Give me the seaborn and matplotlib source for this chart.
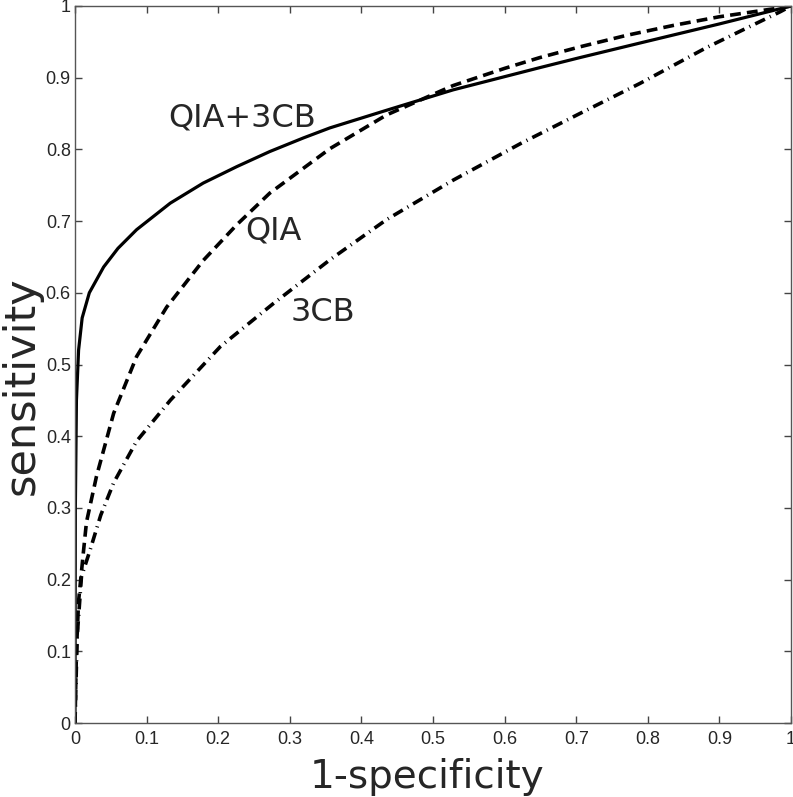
import pandas as pd
import matplotlib
matplotlib.use('Agg')
import matplotlib.pyplot as plt
import seaborn as sns

# ROC curves
combo_x = [0, 0.0005, 0.002, 0.005, 0.01, 0.02, 0.04, 0.06, 0.086, 0.133, 0.179, 0.226,
           0.272, 0.319, 0.356, 0.43, 0.528, 0.649, 0.705, 0.8, 0.9, 1.0]
combo_y = [0, 0.3, 0.45, 0.52, 0.565, 0.6, 0.636, 0.662, 0.688, 0.725, 0.753, 0.776,
           0.797, 0.816, 0.83, 0.853, 0.883, 0.914, 0.928, 0.951, 0.975, 1.0]

qia_x = [0, 0.002, 0.005, 0.0116, 0.016, 0.03, 0.054, 0.086, 0.128, 0.179, 0.226,
         0.272, 0.356, 0.435, 0.528, 0.6, 0.649, 0.705, 0.77, 0.836, 0.9, 0.975, 1.0]
qia_y = [0, 0.1, 0.17, 0.237, 0.28, 0.344, 0.432, 0.511, 0.58, 0.645, 0.695,
         0.739, 0.801, 0.848, 0.889, 0.913, 0.928, 0.943, 0.959, 0.973, 0.985, 0.996, 1.0]

cb_x = [0, 0.003, 0.009, 0.021, 0.036, 0.054, 0.086, 0.133, 0.203, 0.277, 0.356,
        0.435, 0.528, 0.622, 0.705, 0.789, 0.882, 0.985, 1.0]
cb_y = [0, 0.12, 0.204, 0.241, 0.29, 0.335, 0.393, 0.45, 0.525, 0.585, 0.646,
        0.702, 0.757, 0.808, 0.85, 0.892, 0.942, 0.992, 1.0]

ticks = [0, 0.1, 0.2, 0.3, 0.4, 0.5, 0.6, 0.7, 0.8, 0.9, 1]
tick_labels = ['0', '0.1', '0.2', '0.3', '0.4', '0.5', '0.6', '0.7', '0.8', '0.9', '1']

df = pd.concat([
    pd.DataFrame({'x': combo_x, 'y': combo_y, 'model': 'QIA+3CB'}),
    pd.DataFrame({'x': qia_x, 'y': qia_y, 'model': 'QIA'}),
    pd.DataFrame({'x': cb_x, 'y': cb_y, 'model': '3CB'}),
], ignore_index=True)

sns.set_theme(style='white')
plt.rcParams['font.family'] = ['DejaVu Sans']

fig = plt.figure(figsize=(7.93, 7.97), dpi=100)
ax = fig.add_axes([75 / 793, 74 / 797, 716 / 793, 717 / 797])

sns.lineplot(data=df, x='x', y='y', style='model', size='model', color='black',
             sizes={'QIA+3CB': 2.3, 'QIA': 2.6, '3CB': 2.6},
             dashes={'QIA+3CB': '', 'QIA': (3.0, 1.7), '3CB': (3.0, 1.5, 0.3, 1.5)},
             estimator=None, sort=False, legend=False, ax=ax)

ax.set_xlim(0, 1)
ax.set_ylim(0, 1)
ax.set_xticks(ticks)
ax.set_yticks(ticks)
ax.set_xticklabels(tick_labels, family='Liberation Sans', fontsize=13)
ax.set_yticklabels(tick_labels, family='Liberation Sans', fontsize=13)
ax.tick_params(direction='in', length=5, width=1, color='#444444',
               top=True, right=True, bottom=True, left=True)
ax.tick_params(axis='x', pad=6)
ax.tick_params(axis='y', pad=3)
for sp in ax.spines.values():
    sp.set_color('#555555')
    sp.set_linewidth(1.0)

ax.set_xlabel('1-specificity', fontsize=28)
ax.set_ylabel('sensitivity', fontsize=31)
ax.xaxis.set_label_coords(0.491, -0.0907)
ax.xaxis.label.set_va('baseline')
ax.yaxis.set_label_coords(-0.074, 0.47)
ax.yaxis.label.set_va('center')
ax.yaxis.label.set_ha('center')

ax.text(0.233, 0.844, 'QIA+3CB', fontsize=23, ha='center', va='center')
ax.text(0.277, 0.686, 'QIA', fontsize=23, ha='center', va='center')
ax.text(0.346, 0.573, '3CB', fontsize=23, ha='center', va='center')

fig.savefig('out.png', dpi=100, facecolor='white')
